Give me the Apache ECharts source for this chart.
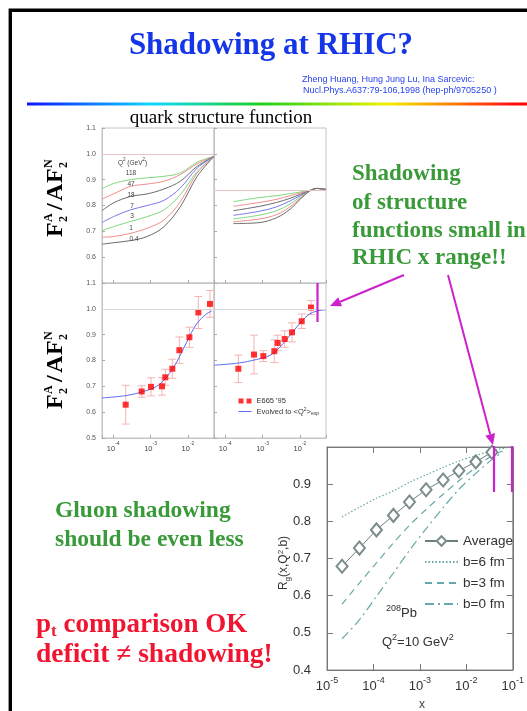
<!DOCTYPE html>
<html><head><meta charset="utf-8">
<script src="https://cdn.jsdelivr.net/npm/echarts@6/dist/echarts.min.js"></script>
<style>html,body{margin:0;padding:0;background:#fff}#c{width:527px;height:711px}</style>
</head><body><div id="c"></div>
<script>
// ---------------- DATA ----------------
// upper-left: F2A/AF2N vs x for several Q^2 (GeV^2)
const qNames = ['118', '47', '18', '7', '3', '1', '0.4'];
const xUL = [5.01e-5, 1.02e-4, 2.88e-4, 8.13e-4, 2.29e-3, 6.31e-3, 1.78e-2, 5.01e-2];
const ulQ118 = [0.865, 0.885, 0.900, 0.907, 0.913, 0.926, 0.968, 0.990];
const ulQ47  = [0.825, 0.845, 0.874, 0.883, 0.894, 0.920, 0.962, 0.990];
const ulQ18  = [0.780, 0.810, 0.835, 0.845, 0.864, 0.894, 0.952, 0.990];
const ulQ7   = [0.734, 0.757, 0.783, 0.800, 0.820, 0.868, 0.945, 0.990];
const ulQ3   = [0.703, 0.718, 0.738, 0.757, 0.783, 0.842, 0.932, 0.990];
const ulQ1   = [0.677, 0.680, 0.692, 0.712, 0.744, 0.815, 0.926, 0.990];
const ulQ04  = [0.650, 0.656, 0.664, 0.680, 0.718, 0.796, 0.913, 0.990];
// upper-right
const xUR = [1.66e-4, 8.51e-4, 2.40e-3, 5.50e-3, 1.02e-2, 1.86e-2, 2.82e-2, 5.01e-2];
const urQ118 = [0.815, 0.831, 0.838, 0.846, 0.852, 0.859, 0.866, 0.862];
const urQ47  = [0.797, 0.812, 0.824, 0.838, 0.848, 0.858, 0.866, 0.862];
const urQ18  = [0.780, 0.797, 0.812, 0.828, 0.843, 0.858, 0.866, 0.862];
const urQ7   = [0.762, 0.778, 0.795, 0.818, 0.838, 0.857, 0.866, 0.862];
const urQ3   = [0.748, 0.763, 0.780, 0.806, 0.833, 0.857, 0.866, 0.862];
const urQ1   = [0.737, 0.748, 0.765, 0.795, 0.828, 0.857, 0.866, 0.862];
const urQ04  = [0.730, 0.734, 0.753, 0.786, 0.824, 0.857, 0.866, 0.862];
const urRef = 0.862;
// lower-left: E665 '95 data + evolved curve
const llX   = [2.16e-4, 5.79e-4, 1.03e-3, 2.03e-3, 2.49e-3, 3.84e-3, 5.92e-3, 1.10e-2, 1.91e-2, 3.92e-2];
const llY   = [0.629, 0.680, 0.698, 0.700, 0.735, 0.768, 0.840, 0.890, 0.986, 1.019];
const llErr = [0.075, 0.022, 0.035, 0.034, 0.031, 0.037, 0.051, 0.039, 0.062, 0.052];
const llCurveX = [5.01e-5, 2.16e-4, 5.79e-4, 1.46e-3, 2.70e-3, 5.01e-3, 9.29e-3, 1.72e-2, 3.19e-2, 4.37e-2];
const llCurveY = [0.655, 0.664, 0.678, 0.700, 0.736, 0.794, 0.871, 0.942, 0.981, 0.991];
// lower-right
const lrX   = [2.25e-4, 5.90e-4, 1.05e-3, 2.07e-3, 2.55e-3, 3.92e-3, 6.15e-3, 1.12e-2, 1.99e-2];
const lrY   = [0.768, 0.823, 0.817, 0.836, 0.868, 0.883, 0.909, 0.952, 1.005];
const lrErr = [0.053, 0.075, 0.021, 0.044, 0.030, 0.032, 0.037, 0.028, 0.027];
const lrCurveX = [5.01e-5, 2.25e-4, 6.97e-4, 1.58e-3, 2.94e-3, 5.45e-3, 1.01e-2, 1.87e-2, 3.47e-2, 5.01e-2];
const lrCurveY = [0.782, 0.790, 0.804, 0.820, 0.852, 0.897, 0.945, 0.981, 0.994, 0.996];
// gluon shadowing Rg(x,Q^2,b), 208Pb, Q^2 = 10 GeV^2
const gX   = [2.11e-5, 4.99e-5, 1.16e-4, 2.69e-4, 5.97e-4, 1.36e-3, 3.17e-3, 6.90e-3, 1.60e-2, 3.56e-2];
const gAvg = [0.679, 0.728, 0.777, 0.816, 0.852, 0.885, 0.911, 0.936, 0.960, 0.986];
const gX6  = [2.11e-5, 4.99e-5, 1.16e-4, 2.69e-4, 5.97e-4, 1.36e-3, 3.17e-3, 6.90e-3, 1.60e-2, 3.56e-2, 8.5e-2];
const gB6  = [0.812, 0.838, 0.862, 0.882, 0.905, 0.925, 0.945, 0.962, 0.977, 0.990, 0.999];
const gX30 = [2.11e-5, 4.99e-5, 1.16e-4, 2.69e-4, 5.97e-4, 1.36e-3, 3.17e-3, 6.90e-3, 1.60e-2, 3.56e-2, 6.2e-2];
const gB3  = [0.577, 0.634, 0.688, 0.742, 0.789, 0.832, 0.873, 0.909, 0.945, 0.977, 0.990];
const gB0  = [0.484, 0.535, 0.598, 0.661, 0.722, 0.780, 0.837, 0.886, 0.929, 0.966, 0.987];
// axis tick values
const fTicks = [0.5, 0.6, 0.7, 0.8, 0.9, 1.0, 1.1];
const gTicks = [0.4, 0.5, 0.6, 0.7, 0.8, 0.9, 1.0];

// ---------------- STYLE ----------------
const qColors = ['#7fd87f', '#f28c8c', '#6a6a6a', '#7878f0', '#7fd87f', '#f28c8c', '#6a6a6a'];
const SERIF = '"Liberation Serif","Times New Roman",serif';
const SANS = '"Liberation Sans",Arial,sans-serif';
const MAG = '#cc22cc';
const BLUE = '#5b6cf2';
const zip = (xs, ys) => xs.map((x, i) => [x, ys[i]]);

function expLabel(v) {
  const l = Math.log10(v), e = Math.round(l);
  if (Math.abs(l - e) > 1e-3) return '';
  return '{b|10}{s|' + e + '}';
}
function smallRich(fs) {
  return {
    b: {fontSize: fs, lineHeight: fs + 4, verticalAlign: 'bottom', fontFamily: SANS, color: '#444'},
    s: {fontSize: Math.round(fs * 0.68), lineHeight: Math.round(fs * 0.7), verticalAlign: 'top', fontFamily: SANS, color: '#444'}
  };
}

const grids = [
  {left: 102, top: 128, width: 112, height: 155},
  {left: 214, top: 128, width: 112, height: 155},
  {left: 102, top: 283, width: 112, height: 155},
  {left: 214, top: 283, width: 112, height: 155},
  {left: 327, top: 447, width: 193, height: 223}
].map(g => Object.assign({show: true, borderColor: g.left === 327 ? '#888' : '#c4c4c4', borderWidth: 1, backgroundColor: 'transparent'}, g));

function fx(gi, labels) {
  return {
    type: 'log', logBase: 10, gridIndex: gi, min: 5.012e-5, max: 5.012e-2,
    axisLine: {lineStyle: {color: '#c4c4c4'}},
    axisTick: {inside: true, length: 3, lineStyle: {color: '#aaa'}},
    splitLine: {show: false},
    axisLabel: {show: labels, formatter: expLabel, margin: 3, rich: smallRich(7.5)}
  };
}
function fy(gi, labels, hideMin) {
  return {
    type: 'value', gridIndex: gi, min: fTicks[0], max: fTicks[fTicks.length - 1], interval: 0.1,
    axisLine: {show: true, lineStyle: {color: '#c4c4c4'}},
    axisTick: {inside: true, length: 3, lineStyle: {color: '#aaa'}},
    splitLine: {show: false},
    axisLabel: {show: labels, margin: 6, fontSize: 7, color: '#555', fontFamily: SANS,
      formatter: v => (hideMin && v < 0.55) ? '' : v.toFixed(1)}
  };
}

const xAxis = [
  fx(0, false), fx(1, false), fx(2, true), fx(3, true),
  {type: 'log', logBase: 10, gridIndex: 4, min: 1e-5, max: 1e-1,
   axisLine: {lineStyle: {color: '#777'}}, axisTick: {inside: true, length: 6, lineStyle: {color: '#777'}},
   splitLine: {show: false}, axisLabel: {formatter: expLabel, margin: 6, rich: {
     b: {fontSize: 13, lineHeight: 17, verticalAlign: 'bottom', fontFamily: SANS, color: '#333'},
     s: {fontSize: 9, lineHeight: 9, verticalAlign: 'top', fontFamily: SANS, color: '#333'}}}},
  {type: 'log', logBase: 10, gridIndex: 4, min: 1e-5, max: 1e-1, position: 'top',
   axisLine: {lineStyle: {color: '#777'}}, axisTick: {inside: true, length: 6, lineStyle: {color: '#777'}},
   splitLine: {show: false}, axisLabel: {show: false}}
];
const yAxis = [
  fy(0, true, true), fy(1, false), fy(2, true, false), fy(3, false),
  {type: 'value', gridIndex: 4, min: gTicks[0], max: gTicks[gTicks.length - 1], interval: 0.1,
   axisLine: {show: true, lineStyle: {color: '#777'}}, axisTick: {inside: true, length: 6, lineStyle: {color: '#777'}},
   splitLine: {show: false},
   axisLabel: {margin: 16, fontSize: 13, color: '#333', fontFamily: SANS, formatter: v => v > 0.95 ? '' : v.toFixed(1)}},
  {type: 'value', gridIndex: 4, min: gTicks[0], max: gTicks[gTicks.length - 1], interval: 0.1, position: 'right',
   axisLine: {show: true, lineStyle: {color: '#777'}}, axisTick: {inside: true, length: 6, lineStyle: {color: '#777'}},
   splitLine: {show: false}, axisLabel: {show: false}}
];

const refLine = (val, color) => ({silent: true, symbol: 'none', label: {show: false}, animation: false,
  lineStyle: {color: color || '#e8c4c4', width: 1, type: 'solid'}, data: [{yAxis: val}]});

const series = [];
const ulSets = [ulQ118, ulQ47, ulQ18, ulQ7, ulQ3, ulQ1, ulQ04];
const urSets = [urQ118, urQ47, urQ18, urQ7, urQ3, urQ1, urQ04];
ulSets.forEach((ys, i) => series.push({
  type: 'line', name: 'Q2=' + qNames[i] + ' (A)', xAxisIndex: 0, yAxisIndex: 0, smooth: 0.35, symbol: 'none',
  lineStyle: {color: qColors[i], width: 1}, data: zip(xUL, ys),
  markLine: i === 0 ? refLine(1.0) : undefined
}));
urSets.forEach((ys, i) => series.push({
  type: 'line', name: 'Q2=' + qNames[i] + ' (B)', xAxisIndex: 1, yAxisIndex: 1, smooth: 0.35, symbol: 'none',
  lineStyle: {color: qColors[i], width: 1}, data: zip(xUR, ys),
  markLine: i === 0 ? refLine(urRef) : undefined
}));

function errSeries(xi, xs, ys, es) {
  return {
    type: 'custom', xAxisIndex: xi, yAxisIndex: xi, silent: true, z: 1,
    data: xs.map((x, i) => [x, ys[i] - es[i], ys[i] + es[i]]),
    encode: {x: 0, y: [1, 2]},
    renderItem: (params, api) => {
      const a = api.coord([api.value(0), api.value(1)]);
      const b = api.coord([api.value(0), api.value(2)]);
      const st = {stroke: '#f5b3b3', lineWidth: 1};
      return {type: 'group', children: [
        {type: 'line', shape: {x1: a[0], y1: a[1], x2: b[0], y2: b[1]}, style: st},
        {type: 'line', shape: {x1: a[0] - 4, y1: a[1], x2: a[0] + 4, y2: a[1]}, style: st},
        {type: 'line', shape: {x1: b[0] - 4, y1: b[1], x2: b[0] + 4, y2: b[1]}, style: st}
      ]};
    }
  };
}
[[2, llX, llY, llErr, llCurveX, llCurveY], [3, lrX, lrY, lrErr, lrCurveX, lrCurveY]].forEach(([xi, xs, ys, es, cx, cy]) => {
  series.push(errSeries(xi, xs, ys, es));
  series.push({type: 'line', name: 'Evolved', xAxisIndex: xi, yAxisIndex: xi, smooth: 0.35, symbol: 'none',
    lineStyle: {color: BLUE, width: 1}, itemStyle: {color: BLUE}, data: zip(cx, cy), z: 2,
    markLine: refLine(1.0, '#d6d6d6')});
  series.push({type: 'scatter', name: "E665 '95", xAxisIndex: xi, yAxisIndex: xi, symbol: 'rect', symbolSize: 6,
    itemStyle: {color: '#ff0000'}, data: zip(xs, ys), z: 3});
});

const teal = '#68a8a8';
series.push({type: 'line', name: 'b=6 fm', xAxisIndex: 4, yAxisIndex: 4, smooth: 0.3, symbol: 'none',
  lineStyle: {color: teal, width: 1.2, type: [1.5, 2]}, itemStyle: {color: teal}, data: zip(gX6, gB6)});
series.push({type: 'line', name: 'b=3 fm', xAxisIndex: 4, yAxisIndex: 4, smooth: 0.3, symbol: 'none',
  lineStyle: {color: teal, width: 1.2, type: [7, 5]}, itemStyle: {color: teal}, data: zip(gX30, gB3)});
series.push({type: 'line', name: 'b=0 fm', xAxisIndex: 4, yAxisIndex: 4, smooth: 0.3, symbol: 'none',
  lineStyle: {color: teal, width: 1.2, type: [9, 4, 2, 4]}, itemStyle: {color: teal}, data: zip(gX30, gB0)});
series.push({type: 'line', name: 'Average', xAxisIndex: 4, yAxisIndex: 4, symbol: 'emptyDiamond', symbolSize: [11, 13],
  lineStyle: {color: '#6b7f7f', width: 1}, itemStyle: {color: '#7c8c8c', borderWidth: 1}, data: zip(gX, gAvg), z: 4});

// ---------------- GRAPHICS (text & annotations) ----------------
function txt(x, y, text, font, fill, align, rich) {
  const st = {text: text, font: font, fill: fill || '#000', align: align || 'left', textAlign: align || 'left',
    verticalAlign: 'middle', textVerticalAlign: 'middle'};
  if (rich) st.rich = rich;
  return {type: 'text', x: x, y: y, style: st, z: 100};
}
function arrow(x1, y1, x2, y2) {
  const dx = x2 - x1, dy = y2 - y1, L = Math.hypot(dx, dy), ux = dx / L, uy = dy / L;
  const hl = 11, hw = 5, bx = x2 - ux * hl, by = y2 - uy * hl;
  return [
    {type: 'line', shape: {x1: x1, y1: y1, x2: bx, y2: by}, style: {stroke: MAG, lineWidth: 2}, z: 100},
    {type: 'polygon', shape: {points: [[x2, y2], [bx - uy * hw, by + ux * hw], [bx + uy * hw, by - ux * hw]]},
     style: {fill: MAG}, z: 100}
  ];
}
function vbar(x, y1, y2) {
  return {type: 'line', shape: {x1: x, y1: y1, x2: x, y2: y2}, style: {stroke: MAG, lineWidth: 2.2}, z: 100};
}
function ratioLabel(cx, cy) {
  const big = 'bold 24px ' + SERIF, sm = 'bold 12px ' + SERIF;
  const t = (x, y, s, f) => ({type: 'text', x: x, y: y, style: {text: s, font: f, fill: '#000',
    verticalAlign: 'middle', textVerticalAlign: 'middle'}});
  return {type: 'group', x: cx, y: cy, rotation: Math.PI / 2, z: 100, children: [
    t(-40, 0, 'F', big), t(-25, -7, 'A', sm), t(-25, 8, '2', sm),
    t(-13, 0, '/', big), t(-4, 0, 'A', big), t(14, 0, 'F', big),
    t(29, -7, 'N', sm), t(29, 8, '2', sm)
  ]};
}
const qRich = {s: {fontSize: 4.5, lineHeight: 5, verticalAlign: 'top', fontFamily: SANS, fill: '#444', color: '#444'},
  n: {fontSize: 6.5, lineHeight: 9, verticalAlign: 'bottom', fontFamily: SANS, fill: '#444', color: '#444'}};
const bigRich = {
  n: {fontSize: 13, lineHeight: 16, verticalAlign: 'bottom', fontFamily: SANS, color: '#333'},
  s: {fontSize: 9, lineHeight: 9, verticalAlign: 'top', fontFamily: SANS, color: '#333'},
  u: {fontSize: 8, lineHeight: 8, verticalAlign: 'bottom', fontFamily: SANS, color: '#333'}
};
const qLabPos = [[131, 173], [131, 184], [131, 195], [132, 206], [132, 216], [131, 228], [134, 239]];

const graphic = [
  {type: 'rect', shape: {x: 10.3, y: 10.3, width: 700, height: 900}, style: {fill: 'none', stroke: '#000', lineWidth: 3.4}, z: 200},
  {type: 'rect', shape: {x: 27, y: 102.5, width: 500, height: 3},
   style: {fill: new echarts.graphic.LinearGradient(0, 0, 1, 0, [
     {offset: 0, color: '#0a14ff'}, {offset: 0.25, color: '#10d8ff'}, {offset: 0.47, color: '#20d020'},
     {offset: 0.72, color: '#f4f000'}, {offset: 0.97, color: '#ff1010'}, {offset: 1, color: '#ff0000'}])}, z: 100},
  txt(271, 46, 'Shadowing at RHIC?', 'bold 31px ' + SERIF, '#1536e8', 'center'),
  txt(302, 80, 'Zheng Huang, Hung Jung Lu, Ina Sarcevic:', '9px ' + SANS, '#2a44ee'),
  txt(303, 91, 'Nucl.Phys.A637:79-106,1998 (hep-ph/9705250 )', '9px ' + SANS, '#2a44ee'),
  txt(221, 118, 'quark structure function', '19px ' + SERIF, '#000', 'center'),
  txt(118, 162, '{n|Q}{s|2}{n| (GeV}{s|2}{n|)}', '6.5px ' + SANS, '#444', 'left', qRich),
  ratioLabel(56, 197), ratioLabel(56, 369),
  txt(352, 174, 'Shadowing', 'bold 23px ' + SERIF, '#3a9a3a'),
  txt(352, 203, 'of structure', 'bold 23px ' + SERIF, '#3a9a3a'),
  txt(352, 231, 'functions small in', 'bold 23px ' + SERIF, '#3a9a3a'),
  txt(352, 258, 'RHIC x range!!', 'bold 23px ' + SERIF, '#3a9a3a'),
  txt(55, 511, 'Gluon shadowing', 'bold 23.5px ' + SERIF, '#3a9a3a'),
  txt(55, 540, 'should be even less', 'bold 23.5px ' + SERIF, '#3a9a3a'),
  txt(36, 625, '{b|p}{t|t}{b| comparison OK}', 'bold 27px ' + SERIF, '#f01530', 'left', {
    b: {fontSize: 27, fontWeight: 'bold', fontFamily: SERIF, color: '#f01530', lineHeight: 30, verticalAlign: 'middle'},
    t: {fontSize: 17, fontWeight: 'bold', fontFamily: SERIF, color: '#f01530', lineHeight: 14, verticalAlign: 'bottom'}}),
  txt(36, 655, 'deficit \u2260 shadowing!', 'bold 27.5px ' + SERIF, '#f01530'),
  {type: 'group', x: 284, y: 563, rotation: Math.PI / 2, z: 100, children: [
    txt(0, 0, '{n|R}{u|g}{n|(x,Q}{s|2}{n|,b)}', '13px ' + SANS, '#333', 'center', {
      n: {fontSize: 12, lineHeight: 15, verticalAlign: 'middle', fontFamily: SANS, color: '#444'},
      s: {fontSize: 8, lineHeight: 8, verticalAlign: 'top', fontFamily: SANS, color: '#444'},
      u: {fontSize: 8, lineHeight: 8, verticalAlign: 'bottom', fontFamily: SANS, color: '#444'}})
  ]},
  txt(422, 705, 'x', '12px ' + SANS, '#444', 'center'),
  txt(386, 612, '{s|208}{n|Pb}', '13px ' + SANS, '#333', 'left', bigRich),
  txt(382, 641, '{n|Q}{s|2}{n|=10 GeV}{s|2}', '13px ' + SANS, '#333', 'left', bigRich),
  vbar(317.5, 283, 322), vbar(494, 446, 492), vbar(512, 446, 492)
].concat(arrow(404, 275, 330, 306), arrow(448, 275, 493, 445));
qNames.forEach((q, i) => graphic.push(txt(qLabPos[i][0], qLabPos[i][1], q, '6.5px ' + SANS, '#444', 'center')));

const hideSym = {opacity: 0};
const option = {
  animation: false,
  backgroundColor: '#fff',
  grid: grids, xAxis: xAxis, yAxis: yAxis, series: series, graphic: graphic,
  legend: [
    {left: 233, top: 392, orient: 'vertical', itemWidth: 13, itemHeight: 5, itemGap: 2, selectedMode: false,
     lineStyle: {width: 1},
     data: [{name: "E665 '95", icon: 'path://M0 0H5V5H0ZM8 0H13V5H8Z'},
            {name: 'Evolved', itemStyle: hideSym}],
     formatter: n => n === 'Evolved' ? '{n|Evolved to <Q}{s|2}{n|>}{u|exp}' : '{n|' + n + '}',
     textStyle: {fontSize: 7.5, color: '#333', fontFamily: SANS, rich: {
       n: {fontSize: 7.5, lineHeight: 9, verticalAlign: 'middle', fontFamily: SANS, color: '#333'},
       s: {fontSize: 5, lineHeight: 5, verticalAlign: 'top', fontFamily: SANS, color: '#333'},
       u: {fontSize: 5, lineHeight: 5, verticalAlign: 'bottom', fontFamily: SANS, color: '#333'}}}},
    {left: 419, top: 529, orient: 'vertical', itemWidth: 33, itemHeight: 12, itemGap: 7, selectedMode: false,
     data: ['Average', {name: 'b=6 fm', itemStyle: hideSym}, {name: 'b=3 fm', itemStyle: hideSym}, {name: 'b=0 fm', itemStyle: hideSym}],
     textStyle: {fontSize: 13.5, lineHeight: 14, color: '#333', fontFamily: SANS}}
  ]
};
const chart = echarts.init(document.getElementById('c'));
chart.setOption(option);
</script></body></html>
